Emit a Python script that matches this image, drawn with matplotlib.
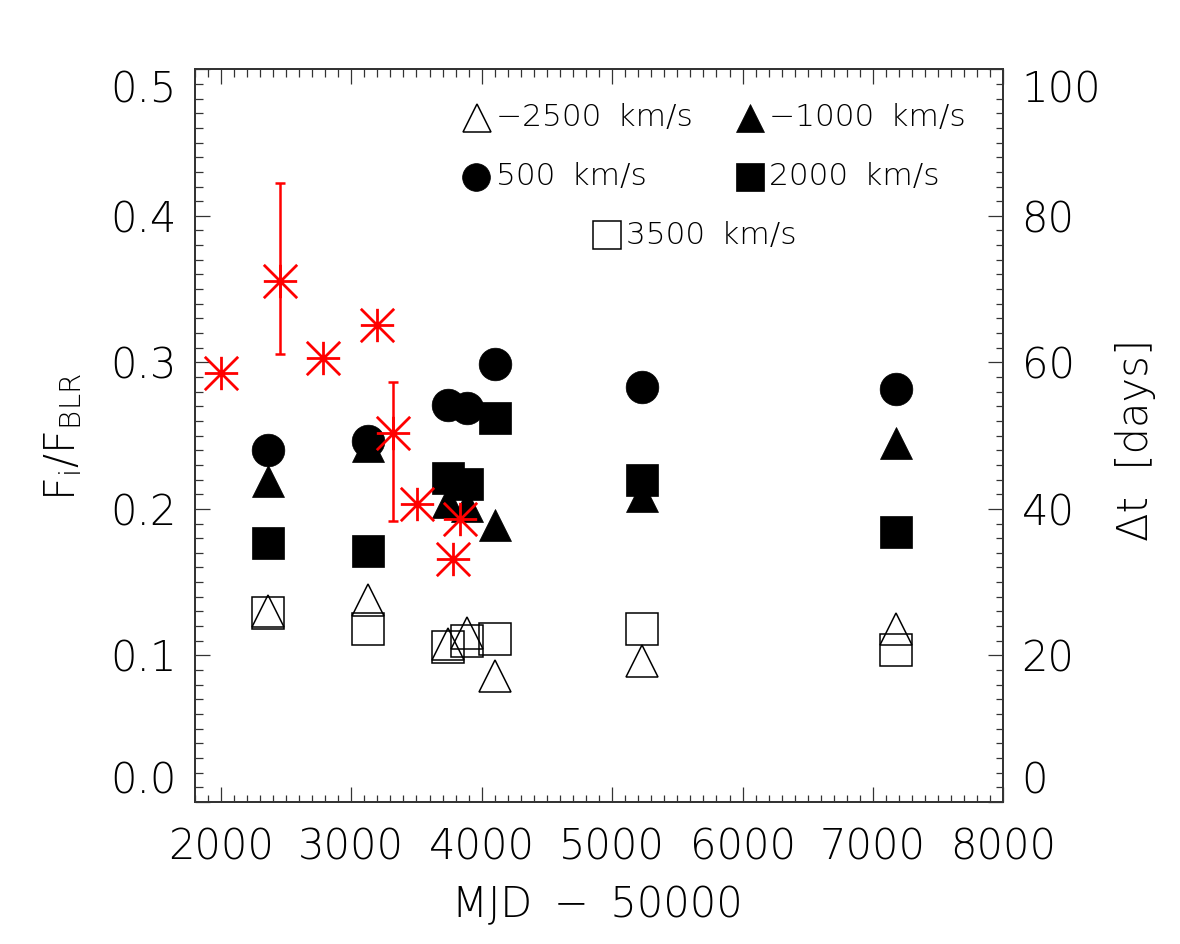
import matplotlib
matplotlib.use("Agg")
import matplotlib.pyplot as plt
from matplotlib.path import Path
from matplotlib.ticker import MultipleLocator

plt.rcParams.update({
    "font.family": ["DejaVu Sans"],
    "font.weight": "light",
    "mathtext.fontset": "dejavusans",
})

# ---- data ----
mjd = [2364, 3126, 3739, 3890, 4101, 5228, 7174]
f_m2500 = [0.130, 0.138, 0.108, 0.115, 0.086, 0.096, 0.118]
f_m1000 = [0.219, 0.243, 0.205, 0.202, 0.189, 0.209, 0.245]
f_500 = [0.240, 0.246, 0.271, 0.269, 0.299, 0.283, 0.282]
f_2000 = [0.177, 0.171, 0.221, 0.217, 0.262, 0.220, 0.184]
f_3500 = [0.129, 0.118, 0.106, 0.110, 0.111, 0.118, 0.104]

lag_mjd = [2000, 2454, 2785, 3197, 3317, 3506, 3777, 3833]
lag_days = [58.5, 71.1, 60.6, 65.1, 50.4, 40.6, 33.1, 38.6]
# only two lag points carry error bars
err_mjd = [2454, 3317]
err_days = [71.1, 50.4]
err_lo = [9.9, 12.1]
err_hi = [13.4, 6.9]

# box asterisk (IDL psym=2 look)
STAR = Path(
    [(-1, 0), (1, 0), (0, -1), (0, 1), (-1, -1), (1, 1), (-1, 1), (1, -1)],
    [Path.MOVETO, Path.LINETO] * 4,
)

fig = plt.figure(figsize=(11.8, 9.44), dpi=100)
ax = fig.add_axes([0.165, 0.1505, 0.6854, 0.7761])
ax2 = ax.twinx()

ms = 23.5
ax.plot(mjd, f_m2500, ls="none", marker="^", ms=ms, mfc="none", mec="k", mew=1.1)
ax.plot(mjd, f_m1000, ls="none", marker="^", ms=ms, color="k", mew=0.5)
ax.plot(mjd, f_500, ls="none", marker="o", ms=ms, color="k", mew=0.5)
ax.plot(mjd, f_2000, ls="none", marker="s", ms=ms - 0.5, color="k", mew=0.5)
ax.plot(mjd, f_3500, ls="none", marker="s", ms=ms - 0.5, mfc="none", mec="k", mew=1.1)

ax2.errorbar(err_mjd, err_days, yerr=[err_lo, err_hi], fmt="none",
             ecolor="red", elinewidth=1.8, capsize=3.6, capthick=1.8)
ax2.plot(lag_mjd, lag_days, ls="none", marker=STAR, ms=24, mfc="none",
         mec="red", mew=2.0)

# ---- in-plot legend ----
leg_fs = 22.5
lm = 20
legend_rows = [
    (3961, 0.467, "^", "none", "\u22122500 \u2009km/s"),
    (6055, 0.467, "^", "k", "\u22121000 \u2009km/s"),
    (3956, 0.4268, "o", "k", "500 \u2009km/s"),
    (6055, 0.4268, "s", "k", "2000 \u2009km/s"),
    (4957, 0.3867, "s", "none", "3500 \u2009km/s"),
]
for x, y, m, fc, txt in legend_rows:
    ax.plot([x], [y], ls="none", marker=m, ms=lm, mfc=fc, mec="k",
            mew=1.1 if fc == "none" else 0.5)
    ax.text(x + 150, y, txt, fontsize=leg_fs, ha="left", va="center")

# ---- axes ----
ax.set_xlim(1800, 8000)
ax.set_ylim(0.0, 0.5)
ax2.set_ylim(0, 100)
ax.set_xticks(range(2000, 8001, 1000))
ax.set_yticks([0.0, 0.1, 0.2, 0.3, 0.4, 0.5])
ax.set_yticklabels(["0.0", "0.1", "0.2", "0.3", "0.4", "0.5"])
ax2.set_yticks(range(0, 101, 20))
ax.xaxis.set_minor_locator(MultipleLocator(100))
ax.yaxis.set_minor_locator(MultipleLocator(0.01))
ax2.yaxis.set_minor_locator(MultipleLocator(2))

for a in (ax, ax2):
    a.tick_params(which="major", direction="in", length=10.8, width=0.9,
                  labelsize=30, color="#333333")
    a.tick_params(which="minor", direction="in", length=5.4, width=0.9,
                  color="#333333")
    for s in a.spines.values():
        s.set_linewidth(1.3)
        s.set_color("#333333")
ax.tick_params(which="both", top=True, right=False)
ax.tick_params(axis="x", pad=18)
ax.tick_params(axis="y", pad=13)
ax2.tick_params(axis="y", pad=13)

# end labels sit inside the frame, as in IDL
for a in (ax, ax2):
    ticks = a.yaxis.get_major_ticks()
    ticks[0].label1.set_verticalalignment("bottom")
    ticks[0].label2.set_verticalalignment("bottom")
    ticks[-1].label1.set_verticalalignment("top")
    ticks[-1].label2.set_verticalalignment("top")

fig.text(597 / 1180, 1 - 905 / 944, "MJD \u2009\u2212\u2009 50000", fontsize=30,
         ha="center", va="center")
fig.text(63 / 1180, 1 - 437 / 944, r"$\mathregular{F_i/F_{BLR}}$",
         fontsize=30, rotation=90, ha="center", va="center")
fig.text(1135 / 1180, 1 - 440 / 944, "\u0394t  [days]", fontsize=30,
         rotation=90, ha="center", va="center")

fig.savefig("out.png", dpi=100, facecolor="white")
